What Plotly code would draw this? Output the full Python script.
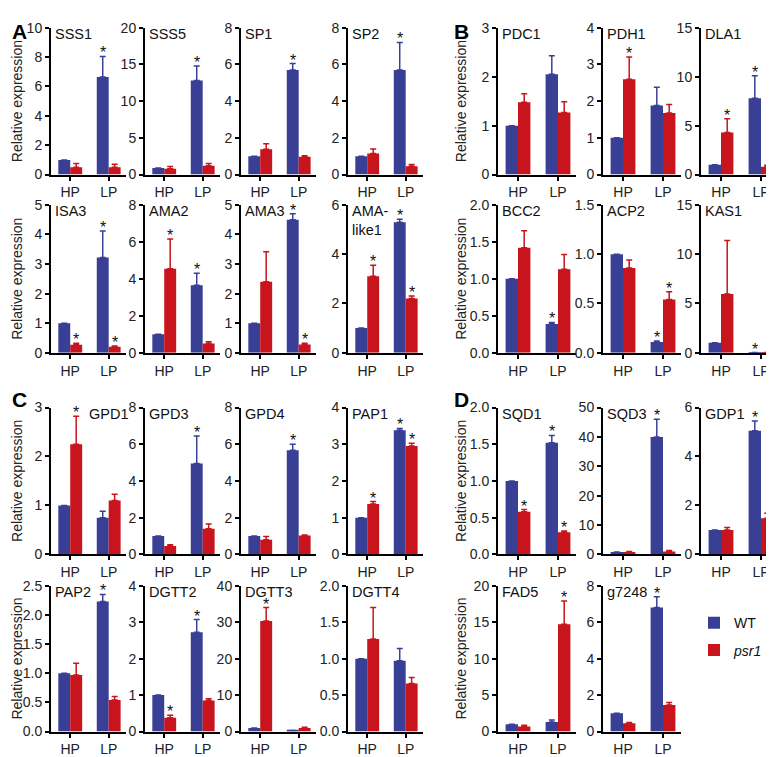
import plotly.graph_objects as go

# ---------------- data ----------------
GENES = ["SSS1", "SSS5", "SP1", "SP2", "ISA3", "AMA2", "AMA3", "AMA-<br>like1",
         "PDC1", "PDH1", "DLA1", "BCC2", "ACP2", "KAS1",
         "GPD1", "GPD3", "GPD4", "PAP1", "PAP2", "DGTT2", "DGTT3", "DGTT4",
         "SQD1", "SQD3", "GDP1", "FAD5", "g7248"]
CONDITIONS = ["HP", "LP"]

WT_MEAN = [[1, 6.65], [0.9, 12.8], [1, 5.7], [1, 5.7], [1, 3.22], [1, 3.65], [1, 4.5], [1, 5.3],
           [1, 2.05], [1, 1.88], [1, 7.8], [1, 0.39], [1, 0.11], [1, 0.02],
           [1, 0.75], [1, 4.95], [1, 5.68], [1, 3.38], [1, 2.23], [1, 2.72], [1, 0.3], [1, 0.97],
           [1, 1.52], [0.8, 40], [1, 5.05], [1, 1.3], [1, 6.8]]
WT_ERR = [[None, 1.4], [None, 2.0], [None, 0.35], [None, 1.5], [None, 0.9], [None, 0.65], [None, 0.2], [None, 0.12],
          [None, 0.38], [None, 0.5], [None, 2.3], [None, 0.02], [None, 0.01], [None, None],
          [None, 0.13], [None, 1.5], [None, 0.32], [None, 0.05], [None, 0.12], [None, 0.35], [None, None], [None, 0.17],
          [None, 0.1], [None, 6], [None, 0.4], [None, 0.3], [None, 0.6]]
PSR_MEAN = [[0.5, 0.5], [0.8, 1.2], [1.38, 0.97], [1.15, 0.45], [0.27, 0.2], [4.55, 0.5], [2.4, 0.28], [3.1, 2.2],
            [1.48, 1.27], [2.6, 1.68], [4.3, 0.8], [1.42, 1.13], [0.86, 0.54], [5.95, 0.02],
            [2.25, 1.1], [0.45, 1.4], [0.8, 1.03], [1.37, 2.95], [0.97, 0.54], [0.38, 0.85], [30.3, 1.0], [1.27, 0.66],
            [0.58, 0.3], [0.8, 1.0], [1.0, 1.48], [0.7, 14.7], [0.45, 1.45]]
PSR_ERR = [[0.25, 0.2], [0.3, 0.3], [0.3, 0.05], [0.25, 0.1], [0.05, 0.03], [1.6, 0.1], [1.02, 0.04], [0.45, 0.1],
           [0.17, 0.22], [0.6, 0.23], [1.4, 0.15], [0.23, 0.2], [0.08, 0.08], [5.45, None],
           [0.57, 0.13], [0.08, 0.25], [0.18, 0.03], [0.07, 0.08], [0.2, 0.06], [0.07, 0.05], [3.7, 0.2], [0.43, 0.08],
           [0.03, 0.02], [0.2, 0.3], [0.1, 0.2], [0.15, 3.2], [0.05, 0.15]]
# significance flags: WT-HP, psr1-HP, WT-LP, psr1-LP
SIG = ["0010", "0010", "0010", "0010", "0111", "0110", "0011", "0111",
       "0000", "0100", "0110", "0010", "0011", "0010",
       "0100", "0010", "0010", "0111", "0010", "0110", "0100", "0000",
       "0111", "0010", "0010", "0001", "0010"]
Y_MAX = [10, 20, 8, 8, 5, 8, 5, 6,
         3, 4, 15, 2, 1.5, 15,
         3, 8, 8, 4, 2.5, 4, 40, 2,
         2, 50, 6, 20, 8]
Y_STEP = [2, 5, 2, 2, 1, 2, 1, 2,
          1, 1, 5, 0.5, 0.5, 5,
          1, 2, 2, 1, 0.5, 1, 10, 0.5,
          0.5, 10, 2, 5, 2]

# ---------------- layout geometry (pixels) ----------------
W, H = 774, 757
LEFT_X = [43, 137, 233, 340]
RIGHT_X = [490, 595, 693]
ROWS = [(12, 162), (193, 344), (400, 550), (582, 731)]
PW_L, PW_R = 75, 78

slots = []
for r in range(2):
    for c in range(4):
        slots.append((LEFT_X[c], PW_L, ROWS[r]))
for r in range(2):
    for c in range(3):
        slots.append((RIGHT_X[c], PW_R, ROWS[r]))
for r in range(2, 4):
    for c in range(4):
        slots.append((LEFT_X[c], PW_L, ROWS[r]))
for r in range(2, 4):
    for c in range(3):
        if r == 3 and c == 2:
            continue
        slots.append((RIGHT_X[c], PW_R, ROWS[r]))

BLUE = "#3A3F96"
RED = "#C8141C"
FONT = "Liberation Sans, Arial, sans-serif"
BW = 0.31

fig = go.Figure()
annotations = []
layout = {}

for k, g in enumerate(GENES):
    i = k + 1
    xs = "x" if i == 1 else f"x{i}"
    ys = "y" if i == 1 else f"y{i}"
    x0, pw, (top, bot) = slots[k]
    pos = [0, 1]
    for trace_i, (mean, err, col, nm) in enumerate([(WT_MEAN[k], WT_ERR[k], BLUE, "WT"),
                                                     (PSR_MEAN[k], PSR_ERR[k], RED, "<i>psr1</i>")]):
        fig.add_trace(go.Bar(
            x=pos, y=mean, width=BW, offset=-BW if trace_i == 0 else 0,
            marker=dict(color=col, line=dict(width=0)),
            error_y=dict(type="data", symmetric=False, array=err, arrayminus=[0, 0],
                         color=col, thickness=1.5, width=3),
            name=nm, showlegend=(k == 0), xaxis=xs, yaxis=ys, legendgroup=nm))
    layout["xaxis" if i == 1 else f"xaxis{i}"] = dict(
        domain=[x0 / W, (x0 + pw) / W], range=[-0.5, 1.45], anchor=ys,
        tickvals=pos, ticktext=CONDITIONS, ticks="outside", ticklen=4, tickwidth=2,
        tickcolor="black", showline=True, linecolor="black", linewidth=2,
        showgrid=False, zeroline=False, tickfont=dict(size=14, color="#222", family=FONT))
    ydict = dict(domain=[1 - bot / H, 1 - top / H], range=[0, Y_MAX[k]], anchor=xs,
                 tick0=0, dtick=Y_STEP[k], ticks="outside", ticklen=4, tickwidth=2,
                 tickcolor="black", showline=True, linecolor="black", linewidth=2,
                 showgrid=False, zeroline=False, tickfont=dict(size=14, color="#222", family=FONT))
    if Y_STEP[k] < 1:
        ydict["tickformat"] = ".1f"
    layout["yaxis" if i == 1 else f"yaxis{i}"] = ydict
    tx = 0.45 if g == "GPD1" else 0
    annotations.append(dict(text=g, xref=f"{xs} domain", yref=f"{ys} domain", x=tx, y=1,
                            xanchor="left", yanchor="top", xshift=2, yshift=4, showarrow=False,
                            align="left", font=dict(size=14.5, color="#111", family=FONT)))
    vals = [(pos[0] - BW / 2, WT_MEAN[k][0], WT_ERR[k][0]), (pos[0] + BW / 2, PSR_MEAN[k][0], PSR_ERR[k][0]),
            (pos[1] - BW / 2, WT_MEAN[k][1], WT_ERR[k][1]), (pos[1] + BW / 2, PSR_MEAN[k][1], PSR_ERR[k][1])]
    for flag, (ax, m, e) in zip(SIG[k], vals):
        if flag == "1":
            annotations.append(dict(text="*", xref=xs, yref=ys, x=ax, y=m + (e or 0),
                                    xanchor="center", yanchor="bottom", yshift=-7, showarrow=False,
                                    font=dict(size=16, color="#111", family=FONT)))

for xp, (top, bot) in [(9, ROWS[0]), (9, ROWS[1]), (9, ROWS[2]), (9, ROWS[3]),
                       (453, ROWS[0]), (453, ROWS[1]), (453, ROWS[2]), (453, ROWS[3])]:
    annotations.append(dict(text="Relative expression", xref="paper", yref="paper",
                            x=xp / W, y=1 - (top + bot) / 2 / H, textangle=-90,
                            xanchor="center", yanchor="middle", showarrow=False,
                            font=dict(size=14, color="#222", family=FONT)))
for lt, xp, yp in [("A", 2, 2), ("B", 444, 2), ("C", 2, 378), ("D", 444, 378)]:
    annotations.append(dict(text=f"<b>{lt}</b>", xref="paper", yref="paper", x=xp / W, y=1 - yp / H,
                            xanchor="left", yanchor="top", showarrow=False,
                            font=dict(size=21, color="black", family=FONT)))

fig.update_layout(
    width=W, height=H, margin=dict(l=0, r=0, t=0, b=0),
    plot_bgcolor="white", paper_bgcolor="white", barmode="overlay",
    annotations=annotations,
    legend=dict(x=686 / W, y=1 - 604 / H, xanchor="left", yanchor="top",
                font=dict(size=14, color="#111", family=FONT), tracegroupgap=6,
                bgcolor="rgba(0,0,0,0)"),
    **layout)

fig.write_html("out.html")
